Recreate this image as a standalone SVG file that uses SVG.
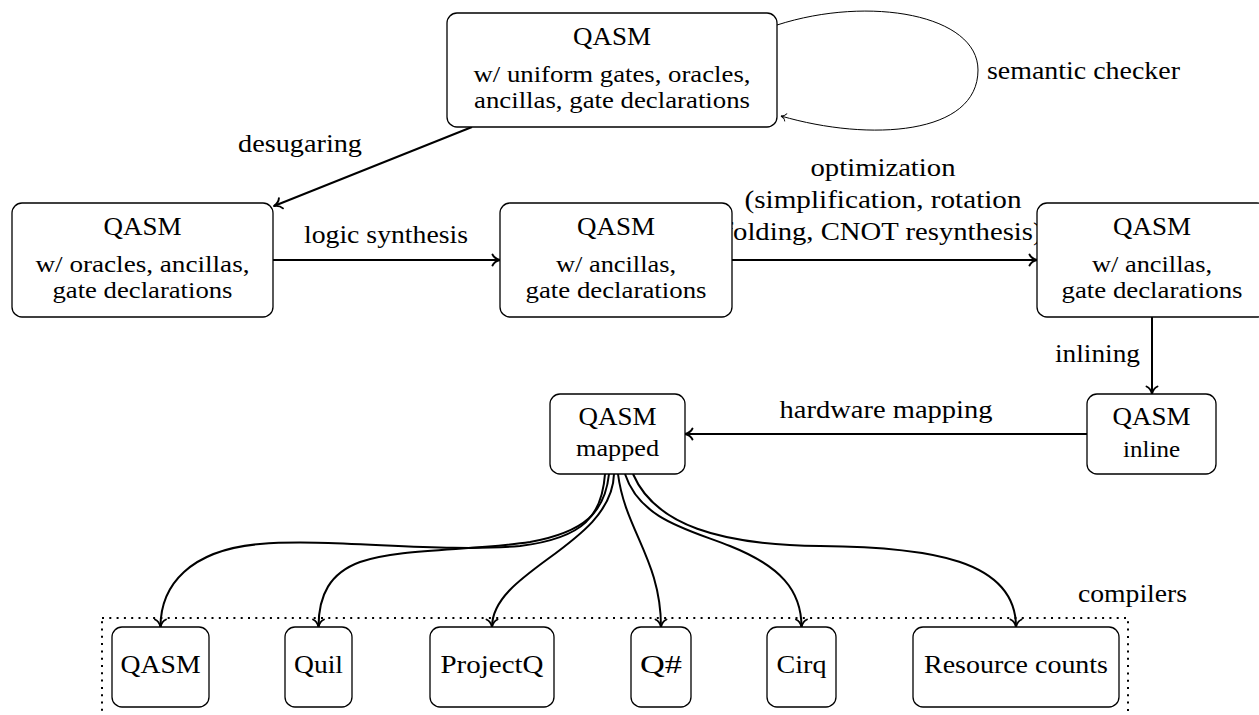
<svg xmlns="http://www.w3.org/2000/svg" width="1259" height="715" viewBox="0 0 1259 715">
<style>
text{font-family:Liberation Serif,"Times New Roman",Times,"Noto Serif","DejaVu Serif",FreeSerif,serif;fill:#000}
.t{font-size:26px;text-anchor:middle}
.s{font-size:24px;text-anchor:middle}
.l{font-size:26px}
.node rect{fill:#fff;stroke:#000;stroke-width:1.3}
.c{fill:none;stroke:#000;stroke-width:2;marker-end:url(#arr)}
.thin{fill:none;stroke:#000;stroke-width:1;marker-end:url(#arrs)}
</style>
<defs>
<marker id="arr" markerUnits="userSpaceOnUse" viewBox="-10 -7 12 14" refX="0" refY="0" markerWidth="12" markerHeight="14" orient="auto" overflow="visible">
<path d="M-7.5,-5.5 C-6,-2.3 -2.5,-0.6 0,0 C-2.5,0.6 -6,2.3 -7.5,5.5" fill="none" stroke="#000" stroke-width="1.9" stroke-linecap="round" stroke-linejoin="round"/>
</marker>
<marker id="arrs" markerUnits="userSpaceOnUse" viewBox="-8 -6 10 12" refX="0" refY="0" markerWidth="10" markerHeight="12" orient="auto" overflow="visible">
<path d="M-5,-3.8 C-4,-1.6 -1.7,-0.4 0,0 C-1.7,0.4 -4,1.6 -5,3.8" fill="none" stroke="#000" stroke-width="1" stroke-linecap="round"/>
</marker>
</defs>

<g id="compilers">
<rect x="102" y="618" width="1026" height="130" fill="none" stroke="#000" stroke-width="2" stroke-dasharray="2 5.3"/>
<text class="l" x="1078" y="602" textLength="109" lengthAdjust="spacingAndGlyphs">compilers</text>
</g>

<g id="connectors">
<path class="c" d="M472,127 L274,206"/>
<path class="c" d="M273,260 L500,260"/>
<path class="c" d="M732,260 L1037,260"/>
<path class="c" d="M1152,317 L1152,394"/>
<path class="c" d="M1087,434 L685,434"/>
<path class="thin" d="M777,25 C870,-5 978,15 978,70 C978,135 870,142 781,116"/>
<path class="c" d="M605,474 C602,515 585,538 520,546 C440,553 330,538 260,544 C190,550 160.5,585 160.5,627"/>
<path class="c" d="M609,474 C605,512 585,532 530,542 C470,551 400,548 360,562 C330,573 318.5,595 318.5,627"/>
<path class="c" d="M614,474 C612,545 492,570 492,627"/>
<path class="c" d="M618,474 C625,530 661,560 661,627"/>
<path class="c" d="M625,474 C640,520 690,530 730,546 C780,566 801.5,590 801.5,627"/>
<path class="c" d="M633,474 C655,525 720,545 820,546 C930,547 1016,560 1016,627"/>
</g>

<g id="labels">
<text class="l" x="238" y="152" textLength="124" lengthAdjust="spacingAndGlyphs">desugaring</text>
<text class="l" x="987" y="79" textLength="193" lengthAdjust="spacingAndGlyphs">semantic checker</text>
<text class="t" x="386" y="243" textLength="164" lengthAdjust="spacingAndGlyphs">logic synthesis</text>
<text class="t" x="883" y="176" textLength="145" lengthAdjust="spacingAndGlyphs">optimization</text>
<text class="t" x="883" y="208" textLength="277" lengthAdjust="spacingAndGlyphs">(simplification, rotation</text>
<text class="t" x="883" y="240" textLength="319" lengthAdjust="spacingAndGlyphs">folding, CNOT resynthesis)</text>
<text class="l" x="1055" y="362" textLength="85" lengthAdjust="spacingAndGlyphs">inlining</text>
<text class="t" x="886" y="418" textLength="213" lengthAdjust="spacingAndGlyphs">hardware mapping</text>
</g>

<g id="n_top" class="node">
<rect x="447" y="13" width="330" height="114" rx="10"/>
<text class="t" x="612" y="45" textLength="78" lengthAdjust="spacingAndGlyphs">QASM</text>
<text class="s" x="612" y="82" textLength="277" lengthAdjust="spacingAndGlyphs">w/ uniform gates, oracles,</text>
<text class="s" x="612" y="108" textLength="276" lengthAdjust="spacingAndGlyphs">ancillas, gate declarations</text>
</g>

<g id="n_left" class="node">
<rect x="12" y="203" width="261" height="114" rx="10"/>
<text class="t" x="142.5" y="235" textLength="78" lengthAdjust="spacingAndGlyphs">QASM</text>
<text class="s" x="142.5" y="272" textLength="214" lengthAdjust="spacingAndGlyphs">w/ oracles, ancillas,</text>
<text class="s" x="142.5" y="298" textLength="180" lengthAdjust="spacingAndGlyphs">gate declarations</text>
</g>

<g id="n_mid" class="node">
<rect x="500" y="203" width="232" height="114" rx="10"/>
<text class="t" x="616" y="235" textLength="78" lengthAdjust="spacingAndGlyphs">QASM</text>
<text class="s" x="616" y="272" textLength="120" lengthAdjust="spacingAndGlyphs">w/ ancillas,</text>
<text class="s" x="616" y="298" textLength="181" lengthAdjust="spacingAndGlyphs">gate declarations</text>
</g>

<g id="n_right" class="node">
<rect x="1037" y="203" width="230" height="114" rx="10"/>
<text class="t" x="1152" y="235" textLength="78" lengthAdjust="spacingAndGlyphs">QASM</text>
<text class="s" x="1152" y="272" textLength="120" lengthAdjust="spacingAndGlyphs">w/ ancillas,</text>
<text class="s" x="1152" y="298" textLength="181" lengthAdjust="spacingAndGlyphs">gate declarations</text>
</g>

<g id="n_inline" class="node">
<rect x="1087" y="394" width="129" height="80" rx="10"/>
<text class="t" x="1151.5" y="425" textLength="78" lengthAdjust="spacingAndGlyphs">QASM</text>
<text class="s" x="1151.5" y="457" textLength="57" lengthAdjust="spacingAndGlyphs">inline</text>
</g>

<g id="n_mapped" class="node">
<rect x="550" y="394" width="135" height="80" rx="10"/>
<text class="t" x="617.5" y="425" textLength="78" lengthAdjust="spacingAndGlyphs">QASM</text>
<text class="s" x="617.5" y="456" textLength="83" lengthAdjust="spacingAndGlyphs">mapped</text>
</g>

<g id="b_qasm" class="node">
<rect x="112" y="627" width="97" height="80" rx="10"/>
<text class="t" x="160.5" y="673" textLength="80" lengthAdjust="spacingAndGlyphs">QASM</text>
</g>
<g id="b_quil" class="node">
<rect x="285" y="627" width="67" height="80" rx="10"/>
<text class="t" x="318.5" y="673" textLength="49" lengthAdjust="spacingAndGlyphs">Quil</text>
</g>
<g id="b_projectq" class="node">
<rect x="430" y="627" width="124" height="80" rx="10"/>
<text class="t" x="492" y="673" textLength="103" lengthAdjust="spacingAndGlyphs">ProjectQ</text>
</g>
<g id="b_qsharp" class="node">
<rect x="631" y="627" width="60" height="80" rx="10"/>
<text class="t" x="661" y="673" textLength="42" lengthAdjust="spacingAndGlyphs">Q#</text>
</g>
<g id="b_cirq" class="node">
<rect x="767" y="627" width="69" height="80" rx="10"/>
<text class="t" x="801.5" y="673" textLength="50" lengthAdjust="spacingAndGlyphs">Cirq</text>
</g>
<g id="b_resource" class="node">
<rect x="913" y="627" width="206" height="80" rx="10"/>
<text class="t" x="1016" y="673" textLength="184" lengthAdjust="spacingAndGlyphs">Resource counts</text>
</g>
</svg>
